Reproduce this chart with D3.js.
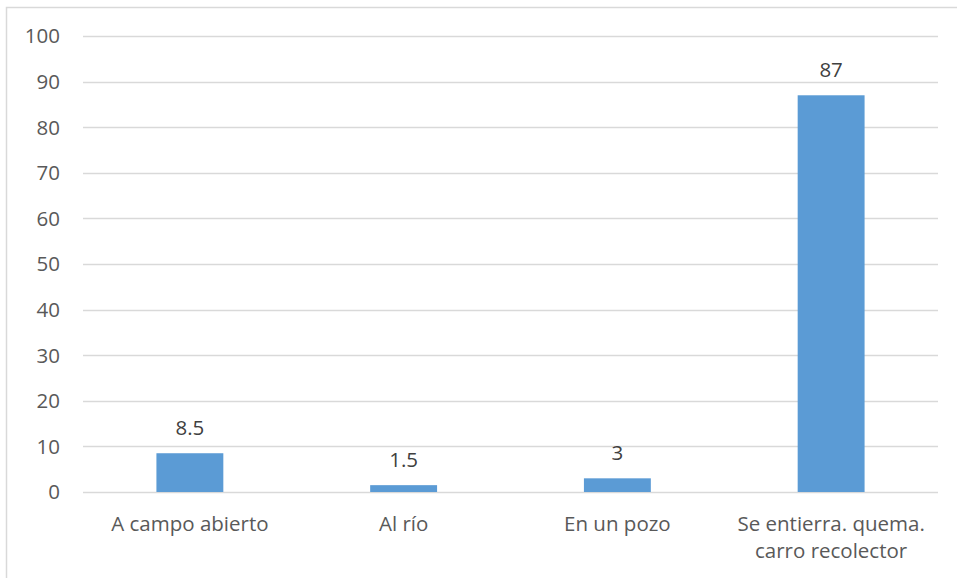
<!DOCTYPE html>
<html>
<head>
<meta charset="utf-8">
<script src="https://cdn.jsdelivr.net/npm/d3@7"></script>
<style>
  body { margin: 0; background: #fff; }
  text { font-family: "Open Sans", sans-serif; }
</style>
</head>
<body>
<div id="my_dataviz"></div>
<script>
// data
var categories = ["A campo abierto", "Al río", "En un pozo", "Se entierra. quema.|carro recolector"];
var values = [8.5, 1.5, 3, 87];
var yTicks = [0, 10, 20, 30, 40, 50, 60, 70, 80, 90, 100];

var W = 957, H = 578;
var margin = {top: 36, right: 19, bottom: 86, left: 83},
    width = W - margin.left - margin.right,
    height = H - margin.top - margin.bottom;

var root = d3.select("#my_dataviz")
  .append("svg")
    .attr("width", W)
    .attr("height", H);

// chart border
root.append("rect")
  .attr("x", 6.5)
  .attr("y", 7.5)
  .attr("width", W + 20)
  .attr("height", H + 20)
  .attr("fill", "none")
  .attr("stroke", "#d9d9d9")
  .attr("stroke-width", 1.5);

var svg = root.append("g")
  .attr("transform", "translate(" + margin.left + "," + margin.top + ")");

var x = d3.scaleBand()
  .domain(categories)
  .range([0, width])
  .paddingInner(0.687)
  .paddingOuter(0.3435);

var y = d3.scaleLinear()
  .domain([0, 100])
  .range([height, 0]);

// gridlines
svg.append("g")
  .selectAll("line")
  .data(yTicks)
  .enter()
  .append("line")
    .attr("x1", 0)
    .attr("x2", width)
    .attr("y1", function(d) { return Math.round(y(d)) + 0.5; })
    .attr("y2", function(d) { return Math.round(y(d)) + 0.5; })
    .attr("stroke", "#d9d9d9")
    .attr("stroke-width", 1.3);

// y axis labels
svg.append("g")
  .selectAll("text")
  .data(yTicks)
  .enter()
  .append("text")
    .attr("x", -23)
    .attr("y", function(d) { return y(d); })
    .attr("dy", "0.36em")
    .attr("text-anchor", "end")
    .style("font-size", "20.5px")
    .style("fill", "#595959")
    .text(function(d) { return d; });

// bars
svg.append("g")
  .selectAll("rect")
  .data(values)
  .enter()
  .append("rect")
    .attr("x", function(d, i) { return x(categories[i]); })
    .attr("y", function(d) { return y(d); })
    .attr("width", x.bandwidth())
    .attr("height", function(d) { return height - y(d); })
    .style("fill", "#5b9bd5");

// value labels
svg.append("g")
  .selectAll("text")
  .data(values)
  .enter()
  .append("text")
    .attr("x", function(d, i) { return x(categories[i]) + x.bandwidth() / 2; })
    .attr("y", function(d) { return y(d) - 18; })
    .attr("text-anchor", "middle")
    .style("font-size", "20.5px")
    .style("fill", "#404040")
    .text(function(d) { return d; });

// category labels (split on |)
var cat = svg.append("g")
  .selectAll("text")
  .data(categories)
  .enter()
  .append("text")
    .attr("x", function(d) { return x(d) + x.bandwidth() / 2; })
    .attr("y", height + 39)
    .attr("text-anchor", "middle")
    .style("font-size", "20.5px")
    .style("fill", "#595959");

cat.selectAll("tspan")
  .data(function(d) { return d.split("|").map(function(s) { return {s: s, c: d}; }); })
  .enter()
  .append("tspan")
    .attr("x", function(d) { return x(d.c) + x.bandwidth() / 2; })
    .attr("dy", function(d, i) { return i === 0 ? 0 : 27; })
    .text(function(d) { return d.s; });
</script>
</body>
</html>
